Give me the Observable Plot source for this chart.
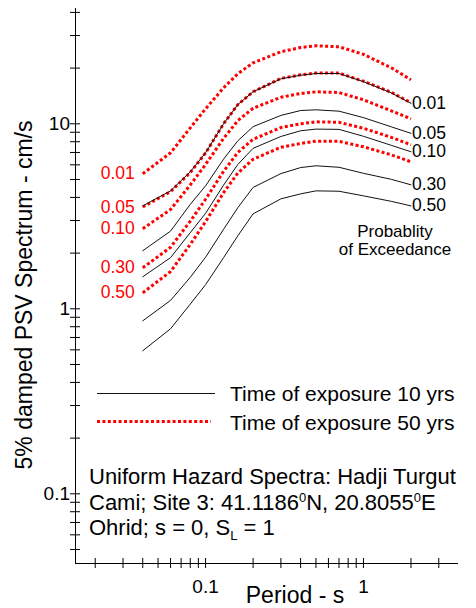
<!DOCTYPE html>
<html>
<head>
<meta charset="utf-8">
<script src="https://cdn.jsdelivr.net/npm/d3@7"></script>
<script src="https://cdn.jsdelivr.net/npm/@observablehq/plot@0.6"></script>
<style>
  html, body { margin: 0; padding: 0; background: #fff; }
  #chart svg { display: block; }
</style>
</head>
<body>
<div id="chart"></div>
<script>
// ---- Data ----
const periods = [0.04, 0.06, 0.08, 0.1, 0.13, 0.16, 0.2, 0.3, 0.4, 0.5, 0.7, 1.0, 1.5, 2.0];
const probLabels = ["0.01", "0.05", "0.10", "0.30", "0.50"];

// Time of exposure 10 yrs (black solid)
const exp10_p01 = [3.60, 4.34, 5.50, 6.97, 10.0, 12.7, 14.9, 17.5, 18.3, 18.7, 18.7, 16.9, 14.7, 12.9];
const exp10_p05 = [2.06, 2.63, 3.67, 4.62, 6.44, 8.09, 9.65, 11.1, 11.8, 11.9, 11.7, 10.8, 9.63, 8.88];
const exp10_p10 = [1.49, 1.89, 2.58, 3.28, 4.66, 6.03, 7.37, 8.54, 9.17, 9.36, 9.33, 8.56, 7.65, 7.06];
const exp10_p30 = [0.861, 1.11, 1.48, 1.90, 2.69, 3.52, 4.53, 5.38, 5.80, 5.93, 5.82, 5.40, 5.01, 4.68];
const exp10_p50 = [0.593, 0.78, 1.06, 1.35, 1.89, 2.48, 3.26, 3.93, 4.18, 4.34, 4.32, 4.08, 3.81, 3.60];

// Time of exposure 50 yrs (red dotted)
const exp50_p01 = [5.37, 6.97, 9.51, 12.05, 15.65, 18.64, 21.37, 24.5, 25.85, 26.4, 26.08, 23.75, 20.08, 17.29];
const exp50_p05 = [3.55, 4.30, 5.45, 6.95, 10.0, 12.7, 14.9, 17.6, 18.4, 18.8, 18.8, 17.0, 14.8, 13.0];
const exp50_p10 = [2.71, 3.44, 4.67, 6.03, 8.34, 10.4, 12.14, 13.91, 14.58, 14.89, 14.76, 13.48, 11.76, 10.64];
const exp50_p30 = [1.666, 2.15, 2.98, 3.91, 5.53, 7.0, 8.25, 9.54, 10.0, 10.25, 10.19, 9.46, 8.45, 7.70];
const exp50_p50 = [1.22, 1.59, 2.23, 2.96, 4.24, 5.42, 6.43, 7.47, 7.83, 8.06, 8.04, 7.51, 6.80, 6.23];

// Axis ticks
const xTicks = [0.02, 0.03, 0.04, 0.05, 0.06, 0.07, 0.08, 0.09, 0.1, 0.2, 0.3, 0.4, 0.5, 0.6, 0.7, 0.8, 0.9, 1, 2, 3];
const xTickLabels = [0.1, 1];
const yTicks = [0.05, 0.06, 0.07, 0.08, 0.09, 0.1, 0.2, 0.3, 0.4, 0.5, 0.6, 0.7, 0.8, 0.9, 1, 2, 3, 4, 5, 6, 7, 8, 9, 10, 20, 30, 40];
const yTickLabels = [0.1, 1, 10];
const xDomain = [0.015, 4];
const yDomain = [0.042, 42];

// Texts
const yTitle = "5% damped PSV Spectrum - cm/s";
const xTitle = "Period - s";
const legend10 = "Time of exposure 10 yrs";
const legend50 = "Time of exposure 50 yrs";
const probTitle = ["Probablity", "of Exceedance"];

// ---- Build tidy tables ----
const series10 = [exp10_p01, exp10_p05, exp10_p10, exp10_p30, exp10_p50];
const series50 = [exp50_p01, exp50_p05, exp50_p10, exp50_p30, exp50_p50];
const rows10 = series10.flatMap((vals, i) => vals.map((v, j) => ({prob: probLabels[i], period: periods[j], value: v})));
const rows50 = series50.flatMap((vals, i) => vals.map((v, j) => ({prob: probLabels[i], period: periods[j], value: v})));

const W = 476, H = 608;
const FONT = "Liberation Sans, Arial, Helvetica, sans-serif";
const DOTS = "3,2.4";

const plot = Plot.plot({
  width: W,
  height: H,
  marginLeft: 75,
  marginRight: 18,
  marginTop: 8,
  marginBottom: 45,
  style: {fontFamily: FONT, background: "#fff", color: "#000"},
  x: {type: "log", domain: xDomain, axis: null},
  y: {type: "log", domain: yDomain, axis: null},
  marks: [
    // axis lines
    Plot.ruleY([yDomain[0]], {stroke: "#000", strokeWidth: 1}),
    Plot.ruleX([xDomain[0]], {stroke: "#000", strokeWidth: 1}),
    // crossing tick marks
    Plot.axisX(xTicks, {anchor: "bottom", label: null, tickSize: 10, dy: -5, tickFormat: () => "", stroke: "#000"}),
    Plot.axisY(yTicks, {anchor: "left", label: null, tickSize: 10, dx: 5, tickFormat: () => "", stroke: "#000"}),
    // tick labels
    Plot.axisX(xTickLabels, {anchor: "bottom", label: null, tickSize: 0, tickPadding: 16, fontSize: 19, tickFormat: d => String(d), fill: "#000"}),
    Plot.axisY(yTickLabels, {anchor: "left", label: null, tickSize: 0, tickPadding: 5.5, fontSize: 19, tickFormat: d => String(d), fill: "#000"}),
    // curves (red dotted below, thin black on top)
    Plot.line(rows50, {x: "period", y: "value", z: "prob", stroke: "#ff0000", strokeWidth: 3, strokeDasharray: DOTS, strokeLinecap: "butt", strokeLinejoin: "miter"}),
    Plot.line(rows10, {x: "period", y: "value", z: "prob", stroke: "#111", strokeWidth: 1}),
    // curve labels
    Plot.text(rows10, Plot.selectLast({x: "period", y: "value", z: "prob", text: "prob", textAnchor: "start", dx: 1, fontSize: 17.5, fill: "#000"})),
    Plot.text(rows50, Plot.selectFirst({x: "period", y: "value", z: "prob", text: "prob", textAnchor: "end", dx: -8, fontSize: 17.5, fill: "#ff0000"}))
  ]
});

document.getElementById("chart").appendChild(plot);

// ---- Annotations (titles, legend, caption) ----
const svg = d3.select(plot);
const ann = svg.append("g").attr("font-family", FONT).attr("fill", "#000").attr("text-anchor", "start");

ann.append("text")
  .attr("transform", "translate(24,295) rotate(-90)")
  .attr("text-anchor", "middle")
  .attr("dominant-baseline", "central")
  .attr("font-size", 23)
  .text(yTitle);

ann.append("text")
  .attr("x", 295).attr("y", 603)
  .attr("text-anchor", "middle")
  .attr("font-size", 23)
  .text(xTitle);

// Probability title
probTitle.forEach((t, i) => {
  ann.append("text")
    .attr("x", 395).attr("y", 237 + i * 18)
    .attr("text-anchor", "middle")
    .attr("font-size", 17)
    .text(t);
});

// Legend
ann.append("line").attr("x1", 97).attr("x2", 215).attr("y1", 393.5).attr("y2", 393.5)
  .attr("stroke", "#111").attr("stroke-width", 1);
ann.append("text").attr("x", 230).attr("y", 401).attr("font-size", 21).text(legend10);
ann.append("line").attr("x1", 97).attr("x2", 211).attr("y1", 421.5).attr("y2", 421.5)
  .attr("stroke", "#ff0000").attr("stroke-width", 3).attr("stroke-dasharray", DOTS);
ann.append("text").attr("x", 230).attr("y", 430).attr("font-size", 21).text(legend50);

// Caption
const cap1 = ann.append("text").attr("x", 89).attr("y", 484).attr("font-size", 22);
cap1.text("Uniform Hazard Spectra: Hadji Turgut");

const cap2 = ann.append("text").attr("x", 89).attr("y", 509.5).attr("font-size", 22);
cap2.append("tspan").text("Cami; Site 3: 41.1186");
cap2.append("tspan").attr("font-size", 13).attr("dy", -8).text("0");
cap2.append("tspan").attr("dy", 8).text("N, 20.8055");
cap2.append("tspan").attr("font-size", 13).attr("dy", -8).text("0");
cap2.append("tspan").attr("dy", 8).text("E");

const cap3 = ann.append("text").attr("x", 89).attr("y", 535).attr("font-size", 22);
cap3.append("tspan").text("Ohrid; s = 0, S");
cap3.append("tspan").attr("font-size", 13).attr("dy", 5).text("L");
cap3.append("tspan").attr("dy", -5).text(" = 1");
</script>
</body>
</html>
